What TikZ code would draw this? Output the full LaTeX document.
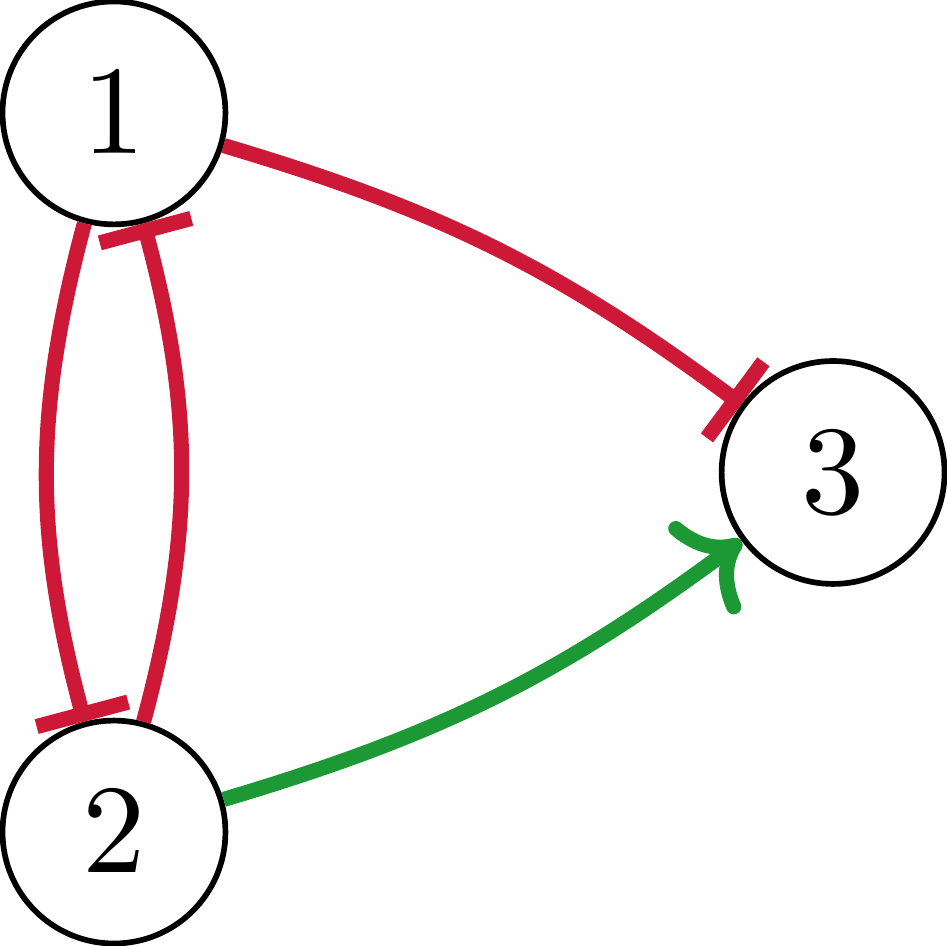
\documentclass[tikz,border=0pt]{standalone}
\usetikzlibrary{arrows.meta}

\definecolor{inhibred}{RGB}{205,25,55}
\definecolor{activgreen}{RGB}{28,152,52}

\begin{document}
\begin{tikzpicture}[
    gene/.style={circle, draw, line width=0.45pt, minimum size=0.62cm, inner sep=0pt},
    repress/.style={inhibred, line width=1.2pt, -{Bar[width=7.5pt]}},
    activate/.style={activgreen, line width=1.2pt, -{Computer Modern Rightarrow[length=4.2pt,width=8.9pt]}}
]
            \useasboundingbox (-0.317,-2.317) rectangle (2.314,0.314);

            % Gene nodes
            \node[gene] (g1) at (0,0) {$1$};
            \node[gene] (g2) at (0,-2) {$2$};
            \node[gene] (g3) at (2,-1) {$3$};

            % Mutual repression between 1 and 2
            \draw[repress] (g1) to[bend right=15] (g2);
            \draw[repress] (g2) to[bend right=15] (g1);

            % 1 represses 3
            \draw[repress] (g1) to[bend left=10] (g3);

            % 2 activates 3
            \draw[activate] (g2) to[bend right=10] (g3);
        \end{tikzpicture}
\end{document}
